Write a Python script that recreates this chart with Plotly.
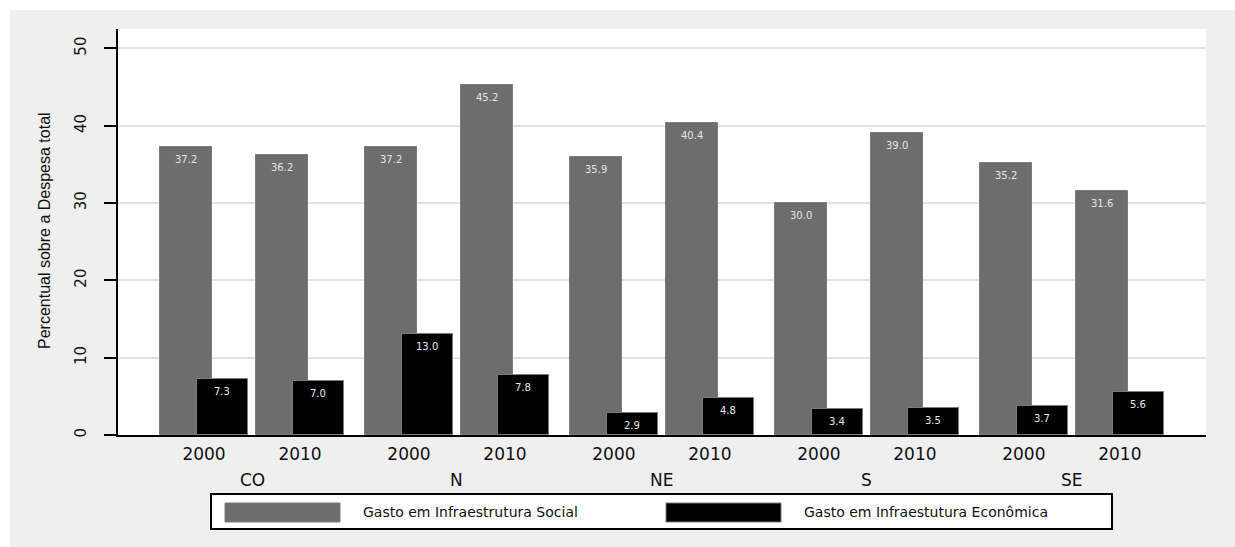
import plotly.graph_objects as go

# ---------------- data ----------------
regions = ["CO", "N", "NE", "S", "SE"]
years = ["2000", "2010"]
social = [37.2, 36.2, 37.2, 45.2, 35.9, 40.4, 30.0, 39.0, 35.2, 31.6]
economic = [7.3, 7.0, 13.0, 7.8, 2.9, 4.8, 3.4, 3.5, 3.7, 5.6]
series_names = ["Gasto em Infraestrutura Social", "Gasto em Infraestutura Econômica"]
y_ticks = [0, 10, 20, 30, 40, 50]

# ---------------- layout constants ----------------
W, H = 1235, 547
L, R, T, B = 118, 29, 29, 112
PW, PH = W - L - R, H - T - B
GROUP_PERIOD = 2.135
X_RANGE = [-0.896, 10.4375]
Y_RANGE = [0, 52.5]

GREY = "#6d6d6d"
BLACK = "#000000"
PANEL = "#efefef"


def px2x(px):
    return (px - L) / PW


def px2y(py):
    return (H - B - py) / PH


slots = []
slot_year = []
for gi, reg in enumerate(regions):
    for yi, yr in enumerate(years):
        slots.append(gi * GROUP_PERIOD + yi)
        slot_year.append(yr)

G_OFF, G_W = -0.458, 0.542
E_OFF, E_W = -0.073, 0.531

fig = go.Figure()
fig.add_trace(go.Bar(
    x=slots, y=social, name=series_names[0], offset=G_OFF, width=G_W,
    marker=dict(color=GREY, line=dict(color="#7c7c7c", width=1)),
    showlegend=False, hoverinfo="y",
))
fig.add_trace(go.Bar(
    x=slots, y=economic, name=series_names[1], offset=E_OFF, width=E_W,
    marker=dict(color=BLACK, line=dict(color="#7a7a7a", width=1)),
    showlegend=False, hoverinfo="y",
))

annotations = []
# value labels inside bars
for xs, v in zip(slots, social):
    annotations.append(dict(x=xs + G_OFF + G_W / 2, y=v, xref="x", yref="y",
                            text=f"{v:.1f}", showarrow=False, yanchor="top", yshift=-5,
                            font=dict(family="DejaVu Sans", size=10, color="#e4e4e4")))
for xs, v in zip(slots, economic):
    annotations.append(dict(x=xs + E_OFF + E_W / 2, y=v, xref="x", yref="y",
                            text=f"{v:.1f}", showarrow=False, yanchor="top", yshift=-5,
                            font=dict(family="DejaVu Sans", size=10, color="#e8e8e8")))

# region (group) labels
for gi, reg in enumerate(regions):
    annotations.append(dict(x=gi * GROUP_PERIOD + 0.5, y=px2y(480), xref="x", yref="paper",
                            text=reg, showarrow=False, yanchor="middle", xanchor="center",
                            font=dict(family="DejaVu Sans", size=17, color="#111111")))

# y-axis title
annotations.append(dict(x=px2x(45), y=px2y(231), xref="paper", yref="paper",
                        text="Percentual sobre a Despesa total", showarrow=False, textangle=-90,
                        xanchor="center", yanchor="middle",
                        font=dict(family="Liberation Sans", size=16, color="#111111")))

# legend texts
annotations.append(dict(x=px2x(361), y=px2y(512), xref="paper", yref="paper",
                        text=series_names[0], showarrow=False, xanchor="left", yanchor="middle",
                        font=dict(family="DejaVu Sans", size=14, color="#111111")))
annotations.append(dict(x=px2x(802), y=px2y(512), xref="paper", yref="paper",
                        text=series_names[1], showarrow=False, xanchor="left", yanchor="middle",
                        font=dict(family="DejaVu Sans", size=14, color="#111111")))

shapes = [
    # white strips at top and left of the page
    dict(type="rect", xref="paper", yref="paper", x0=px2x(0), x1=px2x(W), y0=px2y(10), y1=px2y(0),
         fillcolor="white", line=dict(width=0), layer="below"),
    dict(type="rect", xref="paper", yref="paper", x0=px2x(0), x1=px2x(10), y0=px2y(H), y1=px2y(0),
         fillcolor="white", line=dict(width=0), layer="below"),
    # legend box
    dict(type="rect", xref="paper", yref="paper", x0=px2x(211), x1=px2x(1112), y0=px2y(529), y1=px2y(494),
         fillcolor="white", line=dict(color="black", width=2)),
    dict(type="rect", xref="paper", yref="paper", x0=px2x(225), x1=px2x(340), y0=px2y(522), y1=px2y(503),
         fillcolor=GREY, line=dict(color="#7c7c7c", width=1)),
    dict(type="rect", xref="paper", yref="paper", x0=px2x(666), x1=px2x(781), y0=px2y(522), y1=px2y(503),
         fillcolor=BLACK, line=dict(color="#7a7a7a", width=1)),
]

fig.update_layout(
    width=W, height=H,
    margin=dict(l=L, r=R, t=T, b=B, autoexpand=False),
    paper_bgcolor=PANEL, plot_bgcolor="white",
    barmode="overlay", bargap=0,
    showlegend=False,
    annotations=annotations, shapes=shapes,
    xaxis=dict(range=X_RANGE, tickvals=slots, ticktext=slot_year, showgrid=False, zeroline=False,
               showline=True, linecolor="black", linewidth=2, ticks="",
               tickfont=dict(family="DejaVu Sans", size=17, color="#111111"),
               ticklabelstandoff=3, fixedrange=True),
    yaxis=dict(range=Y_RANGE, tickvals=y_ticks, showgrid=True, gridcolor="#e2e2e2", gridwidth=1.5,
               zeroline=False, showline=True, linecolor="black", linewidth=2,
               ticks="outside", ticklen=12, tickwidth=1.5, tickcolor="black", tickangle=-90,
               tickfont=dict(family="DejaVu Sans", size=15, color="#111111"),
               ticklabelstandoff=12, fixedrange=True),
)

fig.write_html("out.html")
